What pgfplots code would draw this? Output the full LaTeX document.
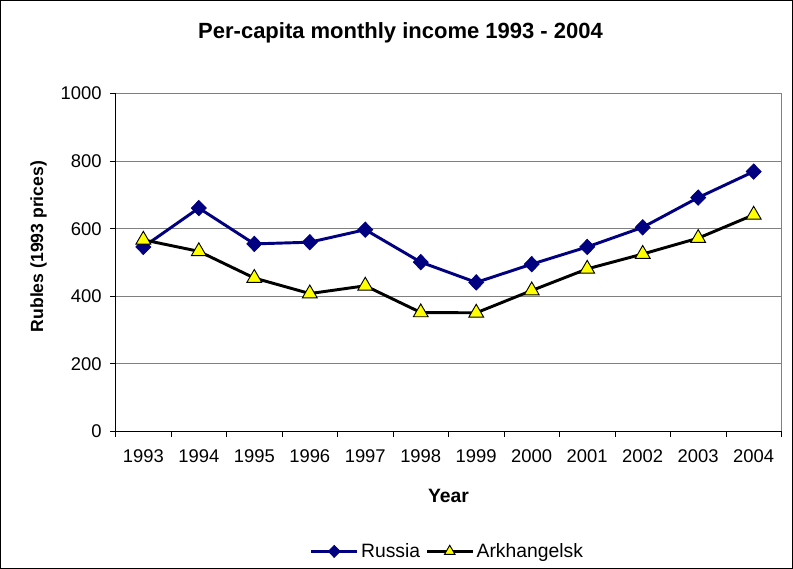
\documentclass[border=0pt]{standalone}
\usepackage{pgfplots}
\pgfplotsset{compat=1.18}
\usepackage{fontspec}
\setmainfont{Liberation Sans}
\definecolor{russia}{HTML}{000080}
\definecolor{arkh}{HTML}{FFFF00}
\definecolor{gridgray}{HTML}{808080}

\pgfplotstableread{
year russia arkhangelsk
1993 546 567
1994 661 533
1995 555 454
1996 560 408
1997 597 431
1998 501 352
1999 441 351
2000 495 417
2001 546 481
2002 604 525
2003 692 572
2004 769 641
}\income

\begin{document}
\begin{tikzpicture}
\begin{axis}[
  scale only axis,
  width=499.5pt, height=253.5pt,
  clip=false,
  axis lines=left,
  axis line style={-, black},
  axis background/.style={draw=gridgray},
  xmin=1992.5, xmax=2004.5,
  ymin=0, ymax=1000,
  xtick={1993,...,2004},
  minor xtick={1992.5,1993.5,...,2004.5},
  /pgf/number format/1000 sep={},
  ytick={0,200,...,1000},
  tick align=outside,
  major x tick style={draw=none},
  minor tick length=4pt,
  major tick length=4pt,
  tick style={black, line width=0.6pt},
  ymajorgrids,
  grid style={gridgray, line width=0.6pt},
  tick label style={font=\fontsize{13.8}{16}\selectfont},
  /pgf/number format/assume math mode=true,
  xticklabel style={yshift=-6pt},
  yticklabel style={xshift=-3pt},
  xlabel={\textbf{Year}},
  ylabel={\textbf{Rubles (1993 prices)}},
  every axis x label/.style={at={(rel axis cs:0.5,-0.19)}, anchor=center,
    font=\fontsize{14.5}{16}\selectfont},
  every axis y label/.style={at={(rel axis cs:-0.1156,0.547)}, rotate=90, anchor=center,
    font=\fontsize{13.2}{16}\selectfont},
  legend style={at={(rel axis cs:0.499,-0.355)}, anchor=center, draw=none,
    font=\fontsize{14.5}{16}\selectfont,
    /tikz/every even column/.append style={column sep=2pt},
    nodes={inner xsep=2pt}},
  legend columns=2,
  legend image code/.code={
    \draw[#1, mark repeat=2, mark phase=2, mark size=4.6pt]
      plot coordinates {(0cm,0cm) (0.6cm,0cm) (1.2cm,0cm)};},
]
\addplot[russia, line width=2.2pt, mark=diamond*, mark size=5.8pt,
  mark options={fill=russia, draw=russia, line width=0.5pt, xscale=1.3}]
  table[x=year, y=russia] {\income};
\addlegendentry{Russia}
\addplot[black, line width=2.2pt, mark=triangle*, mark size=6.4pt,
  mark options={fill=arkh, draw=black, line width=0.7pt}]
  table[x=year, y=arkhangelsk] {\income};
\addlegendentry{Arkhangelsk}
\node[font=\bfseries\fontsize{16.5}{19}\selectfont] at (rel axis cs:0.428,1.18) {Per-capita monthly income 1993 - 2004};
\draw[black, line width=0.9pt] (rel axis cs:-0.1727,-0.405) rectangle (rel axis cs:1.0165,1.275);
\end{axis}
\end{tikzpicture}
\end{document}
